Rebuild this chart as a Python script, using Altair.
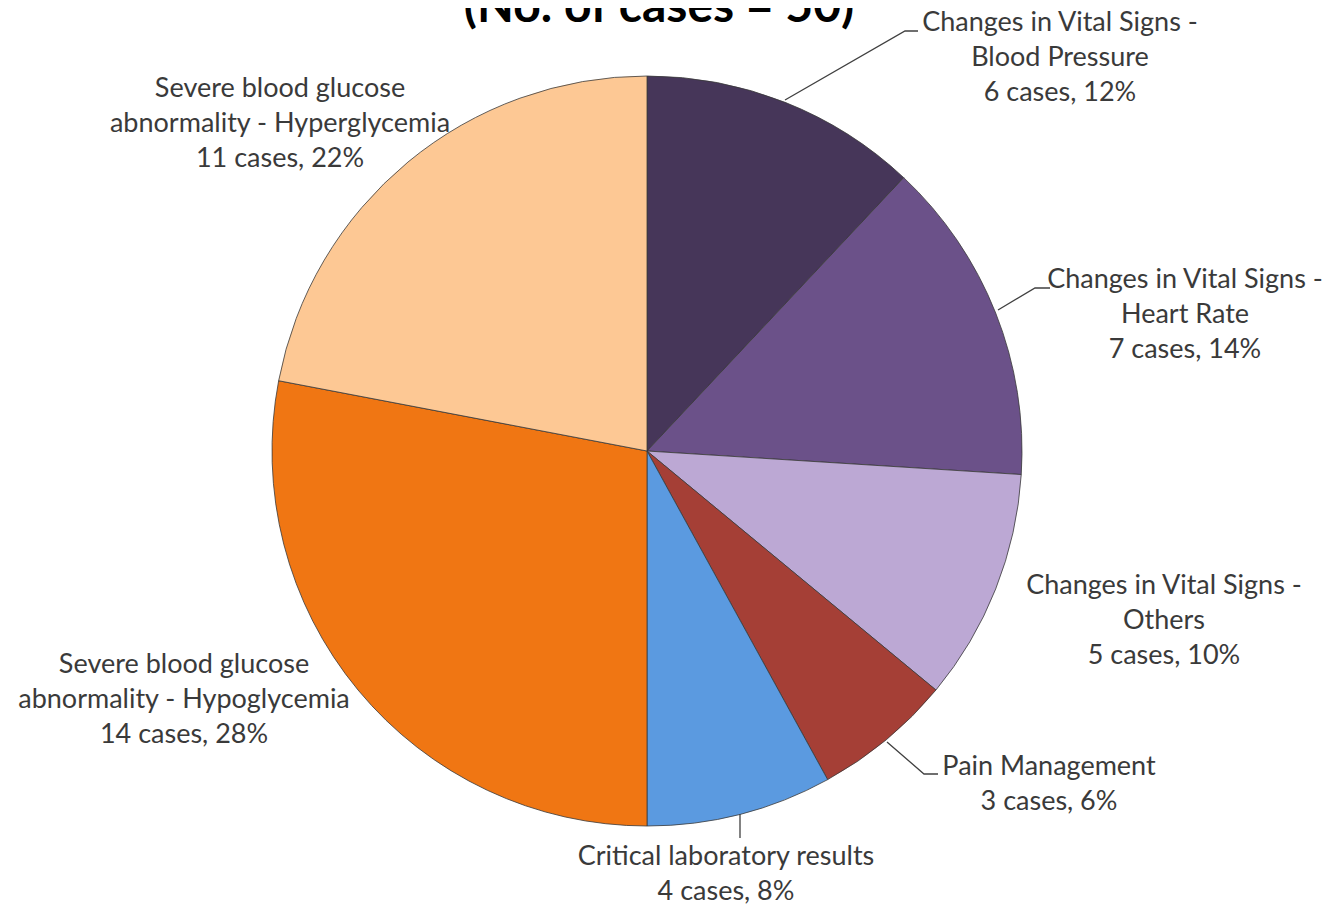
import altair as alt
import pandas as pd

# ---- data ----
categories = [
    "Changes in Vital Signs - Blood Pressure",
    "Changes in Vital Signs - Heart Rate",
    "Changes in Vital Signs - Others",
    "Pain Management",
    "Critical laboratory results",
    "Severe blood glucose abnormality - Hypoglycemia",
    "Severe blood glucose abnormality - Hyperglycemia",
]
label_lines = [
    ["Changes in Vital Signs -", "Blood Pressure"],
    ["Changes in Vital Signs -", "Heart Rate"],
    ["Changes in Vital Signs -", "Others"],
    ["Pain Management"],
    ["Critical laboratory results"],
    ["Severe blood glucose", "abnormality - Hypoglycemia"],
    ["Severe blood glucose", "abnormality - Hyperglycemia"],
]
cases = [6, 7, 5, 3, 4, 14, 11]
percents = [12, 14, 10, 6, 8, 28, 22]
title_text = "(No. of cases = 50)"

# ---- styles / layout ----
colors = ["#463659", "#6b5189", "#bca8d4", "#a53f36", "#5b9ae0", "#f07613", "#fdc894"]
cx, cy, R = 639, 443, 375
label_x = [1052, 1177, 1156, 1041, 718, 176, 272]
label_y0 = [23, 280, 586, 767, 857, 665, 89]
line_gap = 35
leaders = {
    0: [(777, 92), (897, 23), (910, 23)],
    1: [(990, 302), (1027, 280), (1042, 280)],
    3: [(879, 734), (916, 766), (930, 766)],
    4: [(732, 806), (732, 830)],
}
FONT = "Lato"

pie_df = pd.DataFrame({
    "category": categories,
    "cases": cases,
    "order": list(range(len(categories))),
})

rows = []
for i, lines in enumerate(label_lines):
    allines = lines + [f"{cases[i]} cases, {percents[i]}%"]
    for j, t in enumerate(allines):
        rows.append({"x": label_x[i], "y": label_y0[i] + j * line_gap, "text": t})
label_df = pd.DataFrame(rows)

lrows = []
for k, pts in leaders.items():
    for j, (x, y) in enumerate(pts):
        lrows.append({"g": k, "o": j, "x": x, "y": y})
leader_df = pd.DataFrame(lrows)

pie = alt.Chart(pie_df).mark_arc(radius=R, stroke="#3a3a3a", strokeWidth=0.8).encode(
    theta=alt.Theta("cases:Q", stack=True),
    order=alt.Order("order:Q"),
    color=alt.Color("category:N", scale=alt.Scale(domain=categories, range=colors), legend=None),
    x=alt.value(cx),
    y=alt.value(cy),
)

labels = alt.Chart(label_df).mark_text(
    font=FONT, fontSize=27, color="#3a3a3a", align="center", baseline="alphabetic"
).encode(
    x=alt.X("x:Q", scale=None, axis=None),
    y=alt.Y("y:Q", scale=None, axis=None),
    text="text:N",
)

leader_lines = alt.Chart(leader_df).mark_line(color="#404040", strokeWidth=1.3).encode(
    x=alt.X("x:Q", scale=None, axis=None),
    y=alt.Y("y:Q", scale=None, axis=None),
    detail="g:N",
    order="o:Q",
)

title = alt.Chart(pd.DataFrame({"t": [title_text]})).mark_text(
    font=FONT, fontSize=48, fontWeight="bold", color="#000000", align="center", baseline="alphabetic"
).encode(
    x=alt.value(651),
    y=alt.value(14),
    text="t:N",
)

chart = alt.layer(pie, leader_lines, labels, title).properties(
    width=1315, height=897, autosize=alt.AutoSizeParams(type="none"), padding=0
).configure_view(stroke=None)

chart.save("out.html", embed_options={"renderer": "svg", "actions": False})
